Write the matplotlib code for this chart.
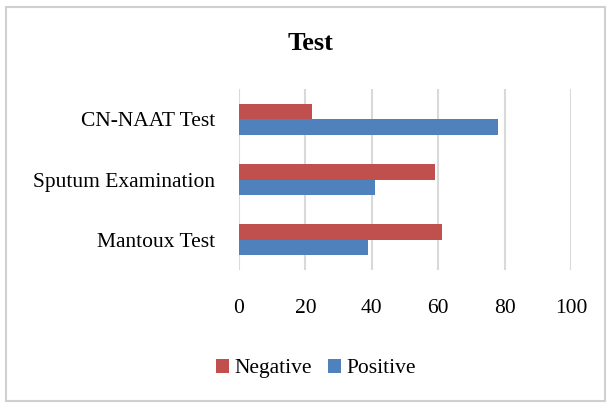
import numpy as np
import matplotlib.pyplot as plt
from matplotlib.patches import Rectangle

categories = ['Mantoux Test', 'Sputum Examination', 'CN-NAAT Test']
negative = [61, 59, 22]
positive = [39, 41, 78]
xticks = [0, 20, 40, 60, 80, 100]

plt.rcParams['font.family'] = ['Liberation Serif', 'DejaVu Serif']

fig = plt.figure(figsize=(6.12, 4.03), dpi=100)
ax = fig.add_axes([0.3905, 0.33, 0.5425, 0.449])

y = np.arange(len(categories))
h = 0.257
ax.barh(y + h/2, negative, height=h, color='#C0504D', label='Negative', zorder=3)
ax.barh(y - h/2, positive, height=h, color='#4F81BD', label='Positive', zorder=3)

ax.set_xlim(0, 100)
ax.set_ylim(-0.5, 2.5)
ax.set_xticks(xticks)
ax.set_yticks(y)
ax.set_yticklabels(categories)
ax.grid(axis='x', color='#D9D9D9', linewidth=1.5, zorder=0)
for s in ax.spines.values():
    s.set_visible(False)
ax.tick_params(axis='both', length=0, labelsize=15.5, colors='#000000')
ax.tick_params(axis='x', pad=21)
ax.tick_params(axis='y', pad=17)

fig.text(0.508, 0.893, 'Test', ha='center', va='center', fontsize=19, fontweight='bold')

fig.legend(loc='center', bbox_to_anchor=(0.516, 0.085), ncol=2, frameon=False,
           fontsize=15.5, handlelength=0.6, handleheight=0.6, handletextpad=0.25,
           columnspacing=0.75)

fig.patches.append(Rectangle((0.009, 0.005), 0.98, 0.978, transform=fig.transFigure,
                             fill=False, edgecolor='#D0D0D0', linewidth=1.5))

fig.savefig('out.png', dpi=100)
